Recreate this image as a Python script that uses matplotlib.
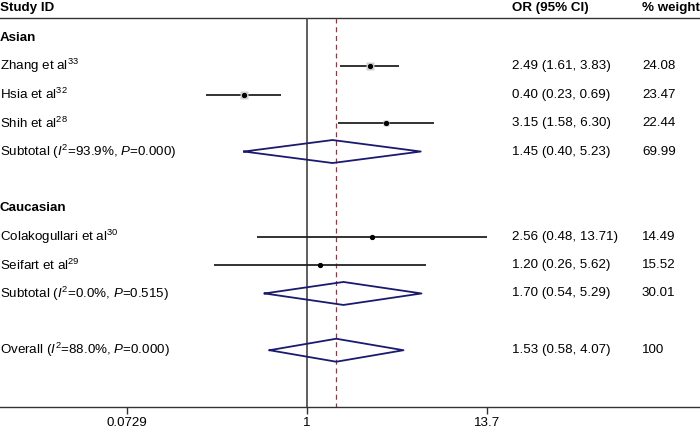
import numpy as np
import matplotlib
matplotlib.use("Agg")
import matplotlib.pyplot as plt
from matplotlib.transforms import blended_transform_factory

plt.rcParams['font.family'] = ['Liberation Sans', 'DejaVu Sans']
plt.rcParams['mathtext.fontset'] = 'custom'
plt.rcParams['mathtext.rm'] = 'Liberation Sans'
plt.rcParams['mathtext.it'] = 'Liberation Sans:italic'

# study level data
studies = ["Zhang et al$^{33}$", "Hsia et al$^{32}$", "Shih et al$^{28}$",
           "Colakogullari et al$^{30}$", "Seifart et al$^{29}$"]
study_rows = [2, 3, 4, 8, 9]
study_or = [2.49, 0.40, 3.15, 2.56, 1.20]
study_lo = [1.61, 0.23, 1.58, 0.48, 0.26]
study_hi = [3.83, 0.69, 6.30, 13.71, 5.62]
study_wt = ["24.08", "23.47", "22.44", "14.49", "15.52"]

# pooled estimates (subtotals + overall)
pooled = ["Subtotal ($\\it{I}^2$=93.9%, $\\it{P}$=0.000)",
          "Subtotal ($\\it{I}^2$=0.0%, $\\it{P}$=0.515)",
          "Overall ($\\it{I}^2$=88.0%, $\\it{P}$=0.000)"]
pooled_rows = [5, 10, 12]
pooled_or = [1.45, 1.70, 1.53]
pooled_lo = [0.40, 0.54, 0.58]
pooled_hi = [5.23, 5.29, 4.07]
pooled_wt = ["69.99", "30.01", "100"]

groups = ["Asian", "Caucasian"]
group_rows = [1, 7]

xticks = [0.0729, 1, 13.7]
xticklabels = ["0.0729", "1", "13.7"]

fig = plt.figure(figsize=(7, 4.29), dpi=100)
ax = fig.add_axes([0, 22 / 429, 1, 407 / 429])
ax.set_xscale('log')
ax.set_xlim(np.exp(-307 / 68.75), np.exp(393 / 68.75))
ax.set_ylim(14, 1 - 38 / 28.4)

for s in ['top', 'right', 'left']:
    ax.spines[s].set_visible(False)
ax.spines['bottom'].set_color('#333333')
ax.spines['bottom'].set_linewidth(1.0)
ax.set_yticks([])
ax.set_xticks(xticks)
ax.set_xticklabels(xticklabels, fontsize=9.6)
ax.xaxis.set_minor_locator(matplotlib.ticker.NullLocator())
ax.tick_params(axis='x', length=5, width=1, color='#333333', pad=2)

top_row = 1 - 20 / 28.4
ax.axhline(top_row, color='#333333', lw=1.0)
ax.vlines(1, top_row, 14, color='#444444', lw=1.2)
ax.vlines(pooled_or[-1], top_row, 14, color='#a03040', lw=0.9, linestyles=(0, (4, 3)))

# study lines, weight boxes and point estimates
for r, o, lo, hi, w in zip(study_rows, study_or, study_lo, study_hi, study_wt):
    ax.hlines(r, lo, hi, color='#222222', lw=1.3, zorder=2)
    ax.plot(o, r, marker='s', ms=float(w) * 0.22, color='#d0d0d0', mec='none', zorder=3)
    ax.plot(o, r, marker='o', ms=2.8, color='black', zorder=4)

# pooled diamonds
for r, o, lo, hi in zip(pooled_rows, pooled_or, pooled_lo, pooled_hi):
    ax.plot([lo, o, hi, o, lo], [r, r - 0.405, r, r + 0.405, r],
            color='#1a1a6e', lw=1.3, zorder=3)

tr = blended_transform_factory(fig.transFigure, ax.transData)
head_row = 1 - 30 / 28.4
fs = 9.6
ax.text(0.0, head_row, "Study ID", transform=tr, fontsize=fs, fontweight='bold', va='center')
ax.text(512 / 700, head_row, "OR (95% CI)", transform=tr, fontsize=fs, fontweight='bold', va='center')
ax.text(642 / 700, head_row, "% weight", transform=tr, fontsize=fs, fontweight='bold', va='center')

for g, r in zip(groups, group_rows):
    ax.text(0.0, r, g, transform=tr, fontsize=fs, fontweight='bold', va='center')

for name, r, o, lo, hi, w in zip(studies + pooled, study_rows + pooled_rows,
                                 study_or + pooled_or, study_lo + pooled_lo,
                                 study_hi + pooled_hi, study_wt + pooled_wt):
    ax.text(0.0, r, name, transform=tr, fontsize=fs, va='center')
    ax.text(512 / 700, r, "%.2f (%.2f, %.2f)" % (o, lo, hi), transform=tr, fontsize=fs, va='center')
    ax.text(642 / 700, r, w, transform=tr, fontsize=fs, va='center')

fig.savefig("out.png", dpi=100)
